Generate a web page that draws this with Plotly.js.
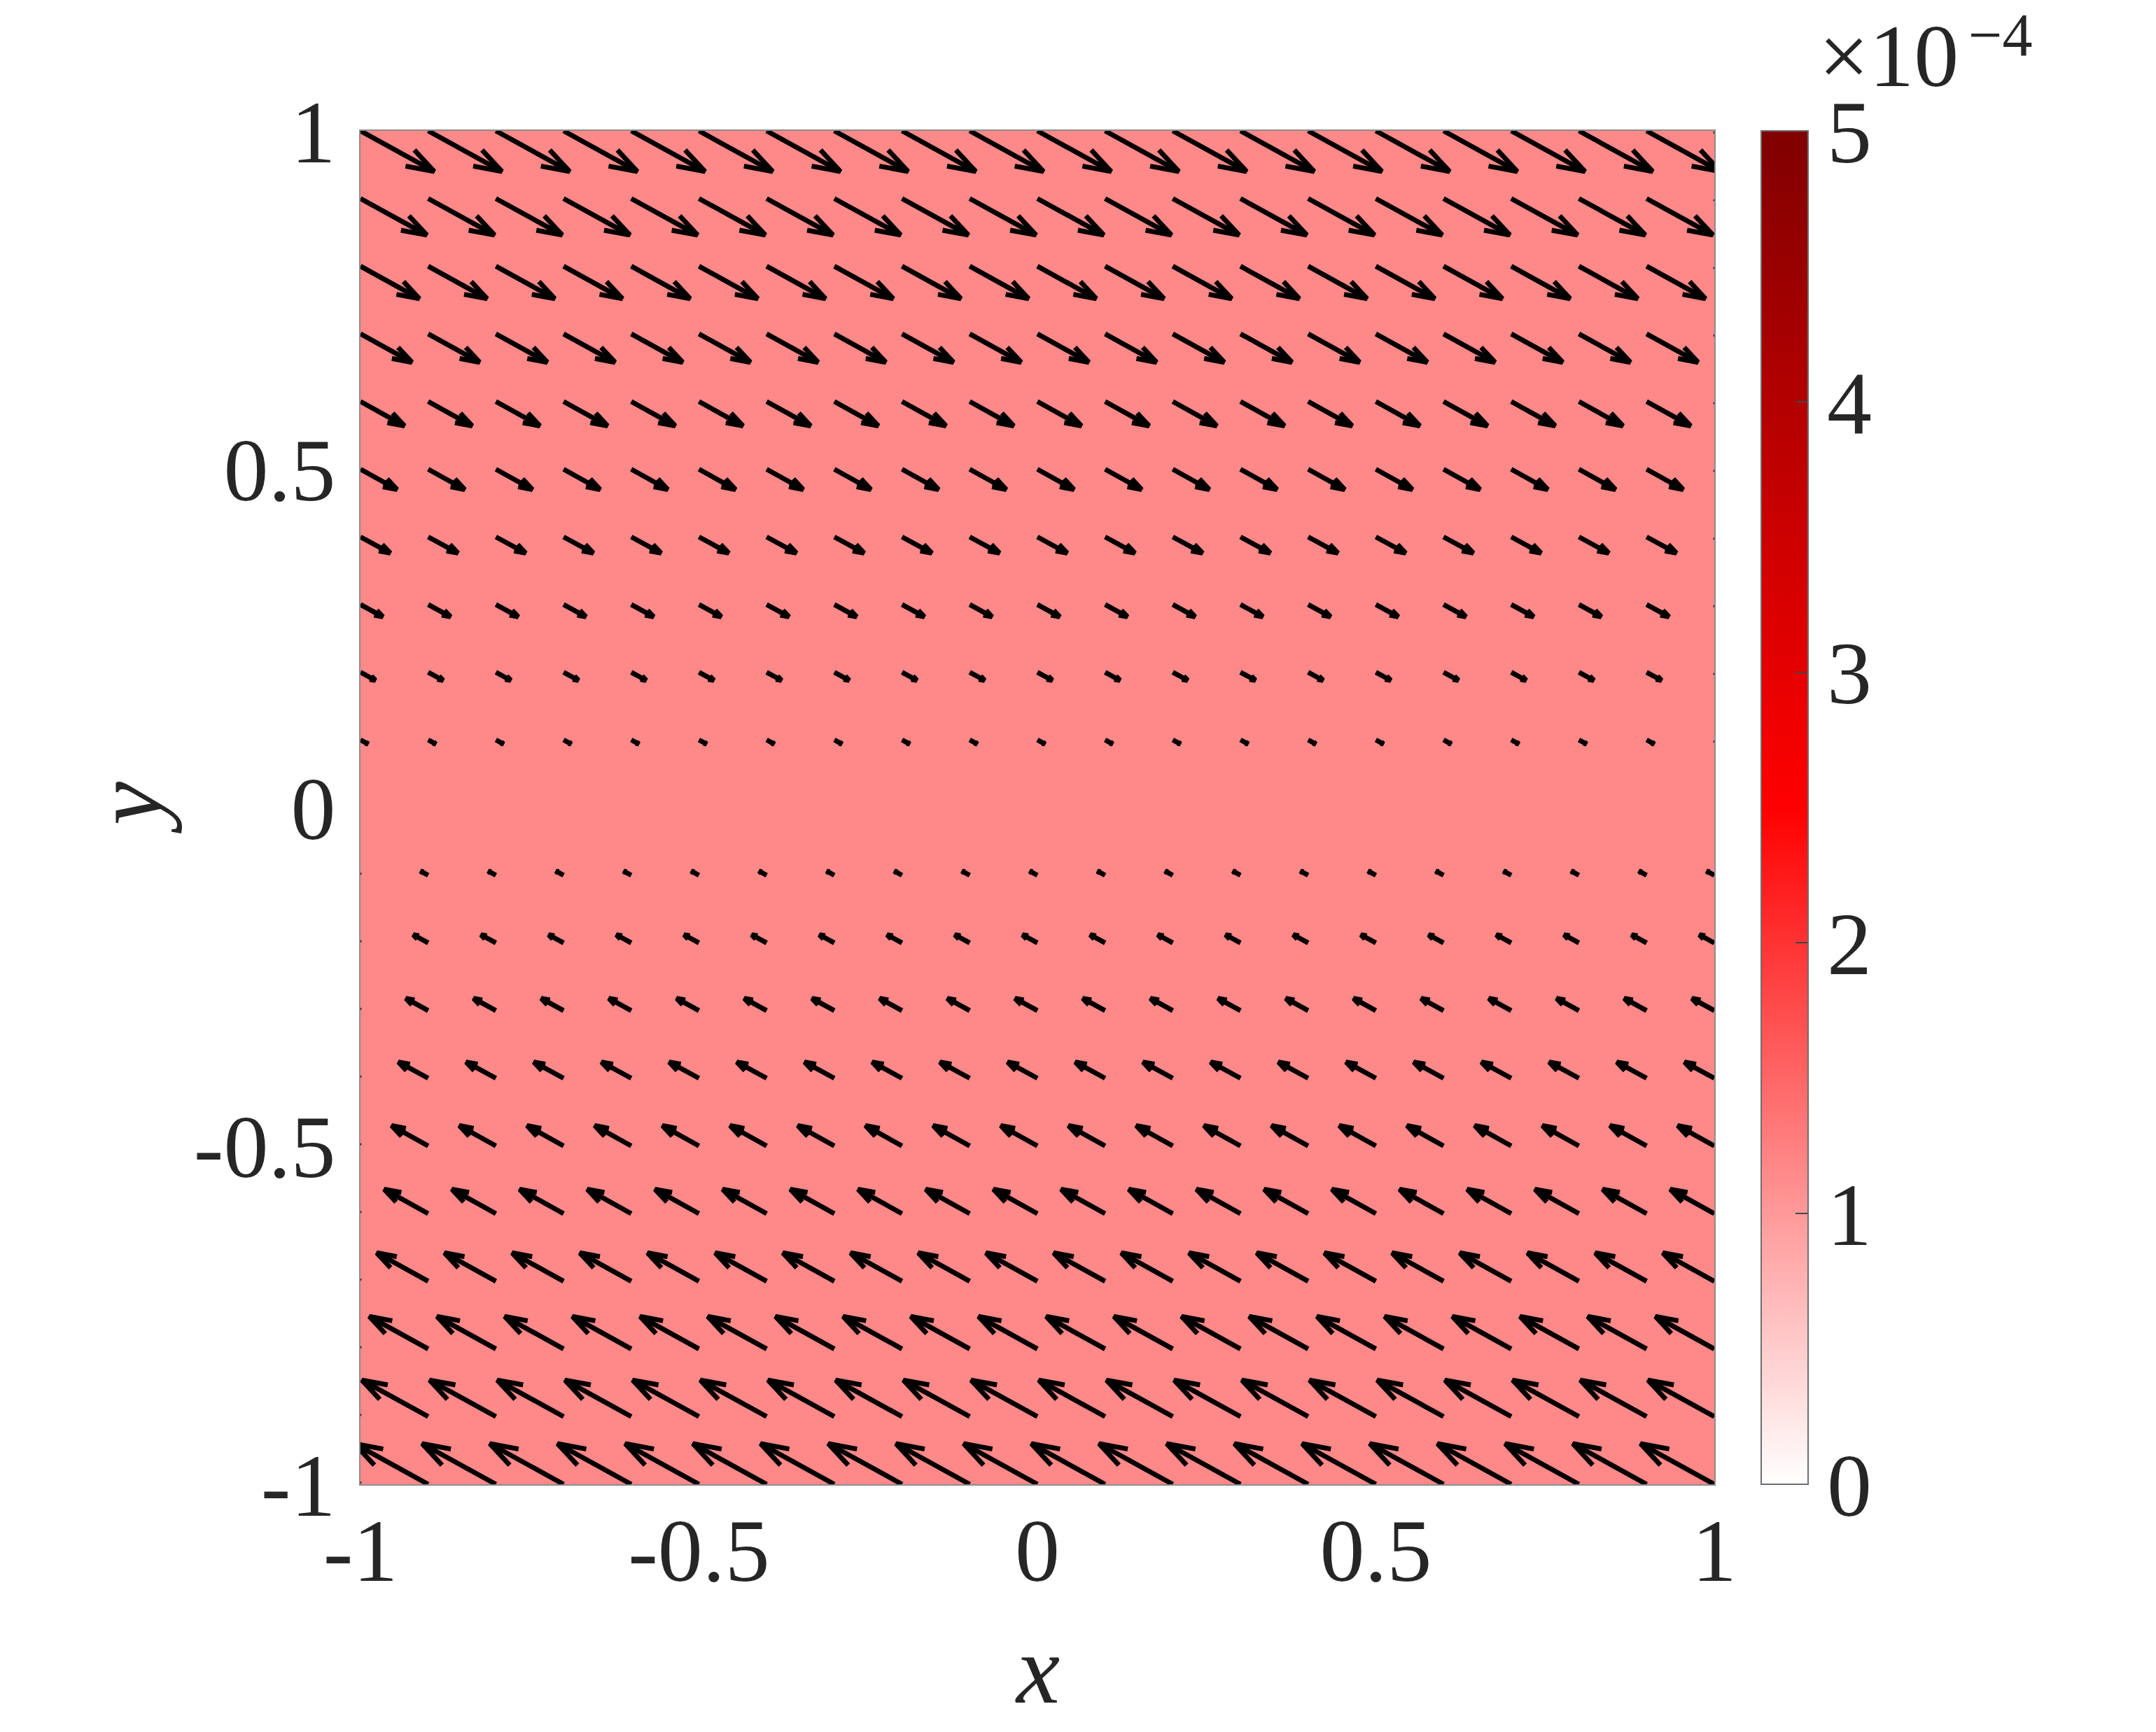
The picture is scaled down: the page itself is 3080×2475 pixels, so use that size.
<!DOCTYPE html>
<html>
<head>
<meta charset="utf-8">
<script src="https://cdn.plot.ly/plotly-3.0.1.min.js"></script>
<style>
  html, body { margin: 0; padding: 0; background: #ffffff; }
  #plot { width: 3080px; height: 2475px; }
</style>
</head>
<body>
<div id="plot"></div>
<script>
// grid of the quiver plot
const xCols = [-1, -0.9, -0.8, -0.7, -0.6, -0.5, -0.4, -0.3, -0.2, -0.1, 0,
               0.1, 0.2, 0.3, 0.4, 0.5, 0.6, 0.7, 0.8, 0.9, 1];
const yRows = [-1, -0.9, -0.8, -0.7, -0.6, -0.5, -0.4, -0.3, -0.2, -0.1, 0,
               0.1, 0.2, 0.3, 0.4, 0.5, 0.6, 0.7, 0.8, 0.9, 1];

// drawn arrow components per row (same along every row), in axis units
const uRow = [-0.109, -0.098, -0.087, -0.076, -0.065, -0.054, -0.044, -0.033, -0.022, -0.011, 0,
              0.011, 0.022, 0.033, 0.044, 0.054, 0.065, 0.076, 0.087, 0.098, 0.109];
const vRow = [0.060, 0.054, 0.048, 0.042, 0.036, 0.030, 0.024, 0.018, 0.012, 0.006, 0,
              -0.006, -0.012, -0.018, -0.024, -0.030, -0.036, -0.042, -0.048, -0.054, -0.060];

// background field (uniform)
const fieldX = [-1, 1];
const fieldY = [-1, 1];
const fieldZ = [[1.17e-4, 1.17e-4], [1.17e-4, 1.17e-4]];

// axis and colorbar ticks
const axisTicks = [-1, -0.5, 0, 0.5, 1];
const axisTickText = ['-1', '-0.5', '0', '0.5', '1'];
const cbTicks = [0, 1e-4, 2e-4, 3e-4, 4e-4, 5e-4];
const cbTickText = ['0', '1', '2', '3', '4', '5'];

const txt = '#262626';
const font = 'Liberation Serif, Times New Roman, serif';

// build quiver lines: shaft + open head (matlab style alpha/beta)
const alpha = 0.33, beta = 0.33;
const qx = [], qy = [];
for (let j = 0; j < yRows.length; j++) {
	const u = uRow[j], v = vRow[j];
	if (u === 0 && v === 0) continue;
	for (let i = 0; i < xCols.length; i++) {
		const x = xCols[i], y = yRows[j];
		const tx = x + u, ty = y + v;
		qx.push(x, tx, null);
		qy.push(y, ty, null);
		qx.push(tx - alpha * (u + beta * v), tx, tx - alpha * (u - beta * v), null);
		qy.push(ty - alpha * (v - beta * u), ty, ty - alpha * (v + beta * u), null);
	}
}

const data = [
	{
		type: 'heatmap',
		x: fieldX,
		y: fieldY,
		z: fieldZ,
		zmin: 0,
		zmax: 5e-4,
		colorscale: [[0, '#ffffff'], [0.5, '#ff0000'], [1, '#800000']],
		hoverinfo: 'skip',
		colorbar: {
			x: 1.0347,
			xanchor: 'left',
			xpad: 0,
			ypad: 0,
			y: 0.5,
			yanchor: 'middle',
			len: 1,
			thickness: 67,
			thicknessmode: 'pixels',
			outlinecolor: '#6e6e6e',
			outlinewidth: 2,
			tickvals: cbTicks,
			ticktext: cbTickText,
			ticks: 'inside',
			ticklen: 19,
			tickwidth: 2,
			tickcolor: '#444444',
			tickfont: { family: font, size: 128, color: txt }
		}
	},
	{
		type: 'scatter',
		mode: 'lines',
		x: qx,
		y: qy,
		line: { color: '#000000', width: 7, simplify: false },
		connectgaps: false,
		hoverinfo: 'skip',
		showlegend: false
	}
];

const axisCommon = {
	range: [-1, 1],
	tickvals: axisTicks,
	ticktext: axisTickText,
	ticks: '',
	showgrid: false,
	zeroline: false,
	showline: true,
	mirror: true,
	linecolor: '#8c8c8c',
	linewidth: 2,
	tickfont: { family: font, size: 128, color: txt },
	automargin: false
};

const layout = {
	width: 3080,
	height: 2475,
	margin: { l: 515, r: 631, t: 187, b: 354 },
	paper_bgcolor: '#ffffff',
	plot_bgcolor: '#ffffff',
	showlegend: false,
	xaxis: Object.assign({}, axisCommon, { ticklabelstandoff: -18 }),
	yaxis: Object.assign({}, axisCommon, { ticklabelstandoff: 8 }),
	annotations: [
		{
			text: '<i>x</i>', xref: 'paper', yref: 'paper', x: 0.5, y: -0.137,
			xanchor: 'center', yanchor: 'middle', showarrow: false,
			font: { family: font, size: 140, color: txt }
		},
		{
			text: '<i>y</i>', xref: 'paper', yref: 'paper', x: -0.172, y: 0.5,
			xanchor: 'center', yanchor: 'middle', showarrow: false, textangle: -90,
			font: { family: font, size: 140, color: txt }
		},
		{
			text: '×10', xref: 'paper', yref: 'paper', x: 1.076, y: 1.0553,
			xanchor: 'left', yanchor: 'middle', showarrow: false,
			font: { family: font, size: 128, color: txt }
		},
		{
			text: '−4', xref: 'paper', yref: 'paper', x: 1.1867, y: 1.0967,
			xanchor: 'left', yanchor: 'top', showarrow: false,
			font: { family: font, size: 86, color: txt }
		}
	]
};

Plotly.newPlot('plot', data, layout, { displayModeBar: false, staticPlot: true });
</script>
</body>
</html>
